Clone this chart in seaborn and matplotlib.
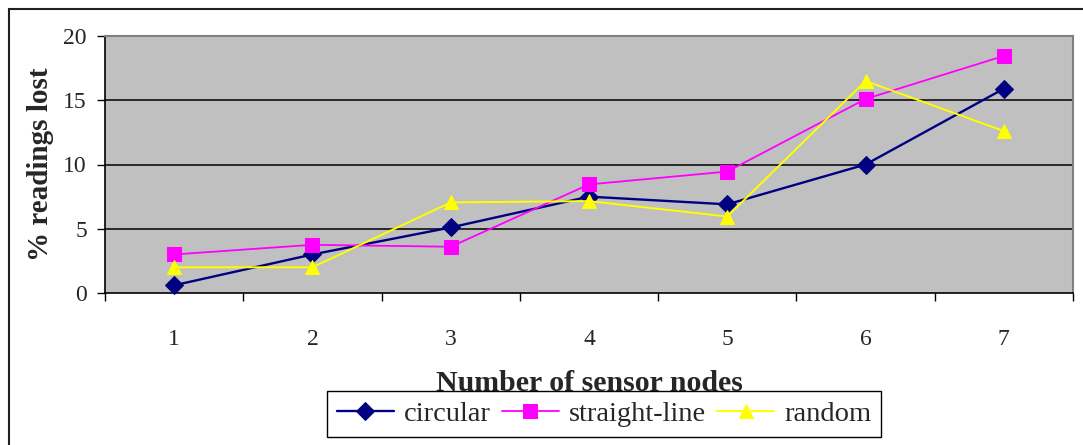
import matplotlib
matplotlib.use("Agg")
import matplotlib.pyplot as plt
import matplotlib.patches as mpatches
from matplotlib.ticker import FixedLocator
import seaborn as sns
import pandas as pd

nodes = [1, 2, 3, 4, 5, 6, 7]
circular = [0.6, 3.0, 5.1, 7.5, 6.9, 10.0, 15.9]
straight_line = [3.0, 3.75, 3.6, 8.45, 9.45, 15.1, 18.45]
random_ = [2.0, 2.0, 7.05, 7.15, 5.95, 16.5, 12.6]
y_ticks = [0, 5, 10, 15, 20]

series_names = ["circular", "straight-line", "random"]
series_vals = [circular, straight_line, random_]
colors = ["#000080", "#FF00FF", "#FFFF00"]
markers = ["D", "s", "^"]
msizes = [9, 9.5, 10.5]
lws = [1.7, 1.3, 1.4]

sns.set_style("white")
plt.rcParams["font.family"] = ["Liberation Serif", "DejaVu Serif"]

fig = plt.figure(figsize=(10.83, 4.45), dpi=100)
ax = fig.add_axes([105 / 1083, 1 - 293 / 445, (1073 - 105) / 1083, (293 - 36) / 445])
ax.set_facecolor("#C0C0C0")

for name, vals, c, m, ms, lw in zip(series_names, series_vals, colors, markers, msizes, lws):
    df = pd.DataFrame({"x": nodes, "y": vals})
    sns.lineplot(data=df, x="x", y="y", ax=ax, color=c, marker=m, markersize=ms,
                 markeredgecolor=c, markerfacecolor=c, linewidth=lw, label=name,
                 zorder=3, clip_on=False)

ax.set_xlim(0.5, 7.5)
ax.set_ylim(0, 20)
ax.set_yticks(y_ticks)
ax.set_xticks(nodes)
ax.set_xticklabels([str(n) for n in nodes])
ax.xaxis.set_minor_locator(FixedLocator([i + 0.5 for i in range(0, 8)]))
ax.tick_params(axis="x", which="major", length=0, pad=26, labelsize=17)
ax.tick_params(axis="x", which="minor", length=6, width=1, direction="out", color="black", bottom=True)
ax.tick_params(axis="y", which="major", length=6, width=1, direction="out", color="black",
               pad=7, labelsize=17, left=True)

for yv in y_ticks[1:-1]:
    ax.axhline(yv, color="black", linewidth=1.1, zorder=1)

ax.spines["left"].set_color("black")
ax.spines["bottom"].set_color("black")
ax.spines["left"].set_linewidth(1.2)
ax.spines["bottom"].set_linewidth(1.2)
ax.spines["top"].set_color("#808080")
ax.spines["right"].set_color("#808080")
ax.spines["top"].set_linewidth(1.5)
ax.spines["right"].set_linewidth(1.5)
for s in ax.spines.values():
    s.set_visible(True)

ax.set_xlabel("Number of sensor nodes", fontsize=21.5, fontweight="bold", labelpad=14)
ax.set_ylabel("% readings lost", fontsize=21, fontweight="bold", labelpad=7)

if ax.legend_:
    ax.legend_.remove()
handles, labels = ax.get_legend_handles_labels()
leg = fig.legend(handles, labels, loc="center", bbox_to_anchor=(604 / 1083, 1 - 414 / 445),
                 ncol=3, fontsize=20.5, frameon=True, fancybox=False, framealpha=1,
                 edgecolor="black", handlelength=2.0, handletextpad=0.35,
                 columnspacing=0.4, borderpad=0.35, numpoints=1)
leg.get_frame().set_linewidth(1.0)

border = mpatches.Rectangle((9 / 1083, -0.05), 1.1, 1 - 9 / 445 + 0.05, transform=fig.transFigure,
                            fill=False, edgecolor="#202020", linewidth=1.5)
fig.add_artist(border)

fig.savefig("out.png", dpi=100)
